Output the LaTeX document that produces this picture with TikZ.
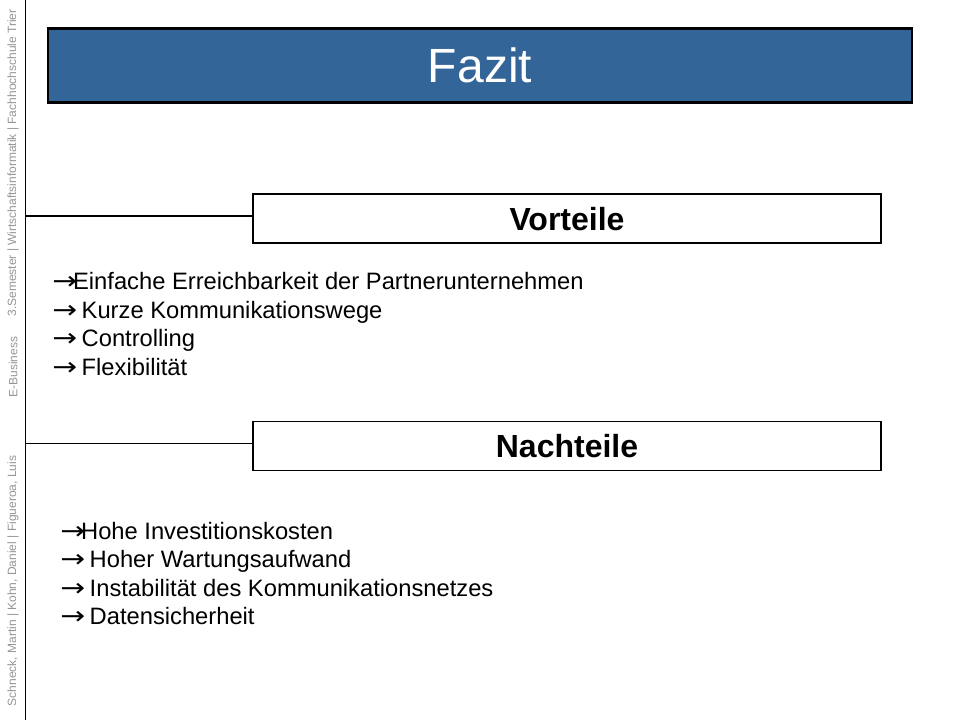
\documentclass[tikz,border=0pt]{standalone}
\usepackage{fontspec}
\setmainfont{Liberation Sans}
\newfontfamily\arrowfont{DejaVu Sans}
\newcommand{\rarr}{\scalebox{1.25}[1.05]{\arrowfont →}\kern-1.5pt}
\definecolor{titleblue}{RGB}{52,101,153}
\definecolor{sidegray}{RGB}{150,150,150}
\begin{document}
\begin{tikzpicture}[x=0.75pt,y=-0.75pt,
  titlebox/.style={draw=black,line width=2pt,fill=titleblue,text=white,inner sep=0pt,
    minimum width=648pt,minimum height=55.9pt,font=\fontsize{36}{43}\selectfont},
  headbox/.style={draw=black,line width=1.1pt,fill=white,inner sep=0pt,
    minimum width=471pt,minimum height=36.6pt,font=\fontsize{24}{29}\selectfont\bfseries},
  bul/.style={anchor=base west,inner sep=0pt,font=\fontsize{17.8}{21.6}\selectfont},
  side/.style={rotate=90,inner sep=0pt,text=sidegray,font=\fontsize{9}{10}\selectfont},
  conn/.style={draw=black,line width=1.1pt}]
\useasboundingbox[fill=white] (0,0) rectangle (960,720);
% left rule
\coordinate (top) at (25.5,0);
\coordinate (bot) at (25.5,720);
\draw[conn] (top) -- (bot);
% title
\node[titlebox] (title) at (480,65.5) {Fazit};
% headers
\node[headbox] (vort) at (567,218.6) {Vorteile};
\node[headbox] (nach) at (567,446) {Nachteile};
\coordinate (lv) at (25.5,216);
\coordinate (ln) at (25.5,443.3);
\draw[conn] (lv) -- (lv -| vort.west);
\draw[conn] (ln) -- (ln -| nach.west);
% bullets
\node[bul] (v1) at (52,289.5) {\rarr\kern-1.5ptEinfache Erreichbarkeit der Partnerunternehmen};
\node[bul] (v2) at (52,318) {\rarr\ Kurze Kommunikationswege};
\node[bul] (v3) at (52,346.5) {\rarr\ Controlling};
\node[bul] (v4) at (52,375) {\rarr\ Flexibilität};
\node[bul] (n1) at (60,539) {\rarr\kern-1.5ptHohe Investitionskosten};
\node[bul] (n2) at (60,567.5) {\rarr\ Hoher Wartungsaufwand};
\node[bul] (n3) at (60,596) {\rarr\ Instabilität des Kommunikationsnetzes};
\node[bul] (n4) at (60,624.5) {\rarr\ Datensicherheit};
% side texts
\node[side] (s1) at (13,581) {Schneck, Martin | Kohn, Daniel | Figueroa, Luis};
\node[side] (s2) at (13,367) {E-Business};
\node[side] (s3) at (13,163) {3.Semester | Wirtschaftsinformatik | Fachhochschule Trier};
\end{tikzpicture}
\end{document}
